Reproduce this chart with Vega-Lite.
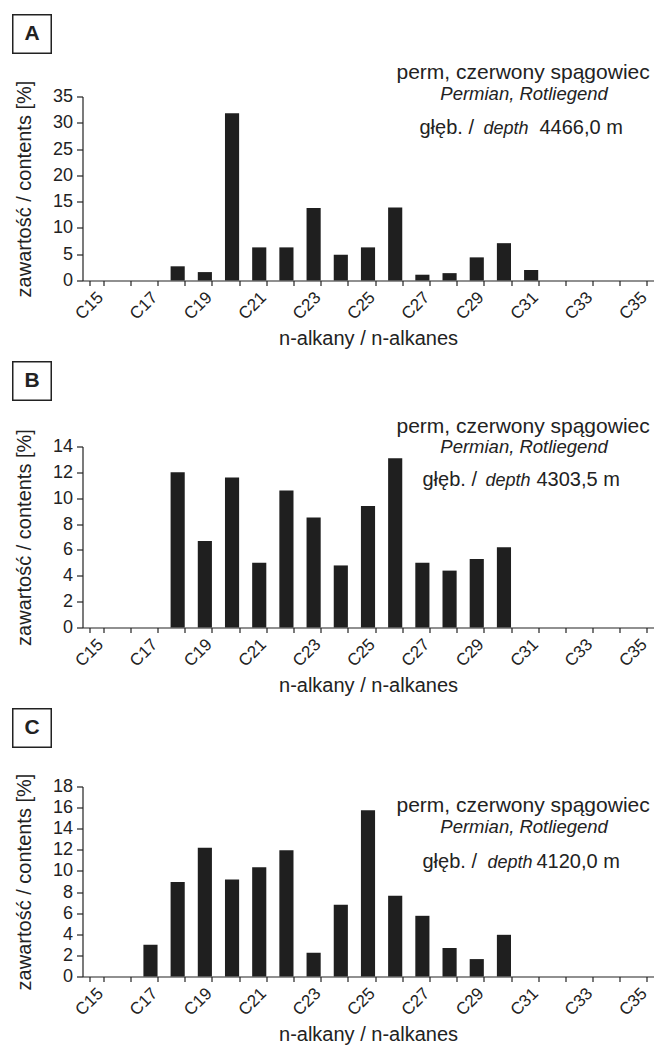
{
  "$schema": "https://vega.github.io/schema/vega-lite/v6.json",
  "padding": {"left": 9.5, "top": 11.5, "right": 4, "bottom": 1},
  "background": "white",
  "config": {
    "font": "Liberation Sans",
    "view": {"stroke": null},
    "axis": {"labelFont": "Liberation Sans", "titleFont": "Liberation Sans", "labelColor": "#222", "titleColor": "#222", "domainColor": "#222", "tickColor": "#222", "grid": false, "titleFontWeight": "normal", "domainWidth": 1.2, "tickWidth": 1.2, "labelOverlap": false},
    "axisX": {"labelAngle": -45, "labelAlign": "right", "labelBaseline": "middle", "labelFontSize": 17, "labelPadding": 9, "labelOffset": 4, "tickSize": 5, "tickBand": "extent", "titleFontSize": 20, "titlePadding": 6},
    "axisY": {"labelFontSize": 18, "labelPadding": 4, "tickSize": 6, "titleFontSize": 20, "titlePadding": 18},
    "concat": {"spacing": 10},
    "text": {"color": "#222", "font": "Liberation Sans"}
  },
  "datasets": {
    "A": [
      {"alkane": "C15", "value": 0}, {"alkane": "C16", "value": 0}, {"alkane": "C17", "value": 0},
      {"alkane": "C18", "value": 2.7}, {"alkane": "C19", "value": 1.6}, {"alkane": "C20", "value": 31.8},
      {"alkane": "C21", "value": 6.3}, {"alkane": "C22", "value": 6.3}, {"alkane": "C23", "value": 13.8},
      {"alkane": "C24", "value": 4.9}, {"alkane": "C25", "value": 6.3}, {"alkane": "C26", "value": 13.9},
      {"alkane": "C27", "value": 1.1}, {"alkane": "C28", "value": 1.4}, {"alkane": "C29", "value": 4.4},
      {"alkane": "C30", "value": 7.1}, {"alkane": "C31", "value": 2.0}, {"alkane": "C32", "value": 0},
      {"alkane": "C33", "value": 0}, {"alkane": "C34", "value": 0}, {"alkane": "C35", "value": 0}
    ],
    "B": [
      {"alkane": "C15", "value": 0}, {"alkane": "C16", "value": 0}, {"alkane": "C17", "value": 0},
      {"alkane": "C18", "value": 12.0}, {"alkane": "C19", "value": 6.7}, {"alkane": "C20", "value": 11.6},
      {"alkane": "C21", "value": 5.0}, {"alkane": "C22", "value": 10.6}, {"alkane": "C23", "value": 8.5},
      {"alkane": "C24", "value": 4.8}, {"alkane": "C25", "value": 9.4}, {"alkane": "C26", "value": 13.1},
      {"alkane": "C27", "value": 5.0}, {"alkane": "C28", "value": 4.4}, {"alkane": "C29", "value": 5.3},
      {"alkane": "C30", "value": 6.2}, {"alkane": "C31", "value": 0}, {"alkane": "C32", "value": 0},
      {"alkane": "C33", "value": 0}, {"alkane": "C34", "value": 0}, {"alkane": "C35", "value": 0}
    ],
    "C": [
      {"alkane": "C15", "value": 0}, {"alkane": "C16", "value": 0}, {"alkane": "C17", "value": 3.0},
      {"alkane": "C18", "value": 8.95}, {"alkane": "C19", "value": 12.2}, {"alkane": "C20", "value": 9.2},
      {"alkane": "C21", "value": 10.35}, {"alkane": "C22", "value": 11.95}, {"alkane": "C23", "value": 2.25},
      {"alkane": "C24", "value": 6.8}, {"alkane": "C25", "value": 15.75}, {"alkane": "C26", "value": 7.65},
      {"alkane": "C27", "value": 5.75}, {"alkane": "C28", "value": 2.7}, {"alkane": "C29", "value": 1.65},
      {"alkane": "C30", "value": 3.95}, {"alkane": "C31", "value": 0}, {"alkane": "C32", "value": 0},
      {"alkane": "C33", "value": 0}, {"alkane": "C34", "value": 0}, {"alkane": "C35", "value": 0}
    ]
  },
  "vconcat": [
    {
      "width": 571, "height": 184,
      "layer": [
        {
          "data": {"name": "A"},
          "mark": {"type": "bar", "color": "#1f1f1f"},
          "encoding": {
            "x": {"field": "alkane", "type": "ordinal", "sort": null,
              "scale": {"domain": ["C15","C16","C17","C18","C19","C20","C21","C22","C23","C24","C25","C26","C27","C28","C29","C30","C31","C32","C33","C34","C35"], "paddingInner": 0.48, "paddingOuter": 0.24},
              "axis": {"title": "n-alkany / n-alkanes", "labelOverlap": false, "labelExpr": "toNumber(slice(datum.label, 1)) % 2 == 1 ? datum.label : ''"}},
            "y": {"field": "value", "type": "quantitative", "scale": {"domain": [0, 35]},
              "axis": {"title": "zawartość / contents  [%]", "labelOverlap": false, "labelFontSize": 18, "values": [0, 5, 10, 15, 20, 25, 30, 35]}}
          }
        },
        {
          "data": {"values": [{"t": "A"}]},
          "mark": {"type": "point", "shape": "square", "size": 1482, "filled": false, "stroke": "#222", "strokeWidth": 1.5, "opacity": 1, "xOffset": -336, "yOffset": -154.5},
          "encoding": {}
        },
        {
          "data": {"values": [{"t": "A"}]},
          "mark": {"type": "text", "fontSize": 21, "fontWeight": "bold", "dx": -336, "dy": -154.5, "align": "center", "baseline": "middle"},
          "encoding": {"text": {"field": "t"}}
        },
        {
          "data": {"values": [{"t": "perm, czerwony spągowiec"}]},
          "mark": {"type": "text", "fontSize": 21, "dx": 155.1, "dy": -109.3, "align": "center", "baseline": "alphabetic"},
          "encoding": {"text": {"field": "t"}}
        },
        {
          "data": {"values": [{"t": "Permian, Rotliegend"}]},
          "mark": {"type": "text", "fontSize": 18.5, "fontStyle": "italic", "dx": 156.1, "dy": -88.3, "align": "center", "baseline": "alphabetic"},
          "encoding": {"text": {"field": "t"}}
        },
        {
          "data": {"values": [{"t": "głęb. /"}]},
          "mark": {"type": "text", "fontSize": 20, "dx": 51.5, "dy": -54.3, "align": "left", "baseline": "alphabetic"},
          "encoding": {"text": {"field": "t"}}
        },
        {
          "data": {"values": [{"t": "depth"}]},
          "mark": {"type": "text", "fontSize": 18, "fontStyle": "italic", "dx": 115.5, "dy": -54.3, "align": "left", "baseline": "alphabetic"},
          "encoding": {"text": {"field": "t"}}
        },
        {
          "data": {"values": [{"t": "4466,0 m"}]},
          "mark": {"type": "text", "fontSize": 20, "dx": 171.5, "dy": -54.3, "align": "left", "baseline": "alphabetic"},
          "encoding": {"text": {"field": "t"}}
        }
      ]
    },
    {
      "width": 571, "height": 181,
      "layer": [
        {
          "data": {"name": "B"},
          "mark": {"type": "bar", "color": "#1f1f1f"},
          "encoding": {
            "x": {"field": "alkane", "type": "ordinal", "sort": null,
              "scale": {"domain": ["C15","C16","C17","C18","C19","C20","C21","C22","C23","C24","C25","C26","C27","C28","C29","C30","C31","C32","C33","C34","C35"], "paddingInner": 0.48, "paddingOuter": 0.24},
              "axis": {"title": "n-alkany / n-alkanes", "labelOverlap": false, "labelExpr": "toNumber(slice(datum.label, 1)) % 2 == 1 ? datum.label : ''"}},
            "y": {"field": "value", "type": "quantitative", "scale": {"domain": [0, 14]},
              "axis": {"title": "zawartość / contents  [%]", "labelOverlap": false, "labelFontSize": 18, "values": [0, 2, 4, 6, 8, 10, 12, 14]}}
          }
        },
        {
          "data": {"values": [{"t": "B"}]},
          "mark": {"type": "point", "shape": "square", "size": 1482, "filled": false, "stroke": "#222", "strokeWidth": 1.5, "opacity": 1, "xOffset": -336, "yOffset": -156},
          "encoding": {}
        },
        {
          "data": {"values": [{"t": "B"}]},
          "mark": {"type": "text", "fontSize": 21, "fontWeight": "bold", "dx": -336, "dy": -156, "align": "center", "baseline": "middle"},
          "encoding": {"text": {"field": "t"}}
        },
        {
          "data": {"values": [{"t": "perm, czerwony spągowiec"}]},
          "mark": {"type": "text", "fontSize": 21, "dx": 155.1, "dy": -103.8, "align": "center", "baseline": "alphabetic"},
          "encoding": {"text": {"field": "t"}}
        },
        {
          "data": {"values": [{"t": "Permian, Rotliegend"}]},
          "mark": {"type": "text", "fontSize": 18.5, "fontStyle": "italic", "dx": 156.1, "dy": -83.8, "align": "center", "baseline": "alphabetic"},
          "encoding": {"text": {"field": "t"}}
        },
        {
          "data": {"values": [{"t": "głęb. /"}]},
          "mark": {"type": "text", "fontSize": 20, "dx": 54.5, "dy": -51.5, "align": "left", "baseline": "alphabetic"},
          "encoding": {"text": {"field": "t"}}
        },
        {
          "data": {"values": [{"t": "depth"}]},
          "mark": {"type": "text", "fontSize": 18, "fontStyle": "italic", "dx": 117.5, "dy": -51.5, "align": "left", "baseline": "alphabetic"},
          "encoding": {"text": {"field": "t"}}
        },
        {
          "data": {"values": [{"t": "4303,5 m"}]},
          "mark": {"type": "text", "fontSize": 20, "dx": 168.5, "dy": -51.5, "align": "left", "baseline": "alphabetic"},
          "encoding": {"text": {"field": "t"}}
        }
      ]
    },
    {
      "width": 571, "height": 190,
      "layer": [
        {
          "data": {"name": "C"},
          "mark": {"type": "bar", "color": "#1f1f1f"},
          "encoding": {
            "x": {"field": "alkane", "type": "ordinal", "sort": null,
              "scale": {"domain": ["C15","C16","C17","C18","C19","C20","C21","C22","C23","C24","C25","C26","C27","C28","C29","C30","C31","C32","C33","C34","C35"], "paddingInner": 0.48, "paddingOuter": 0.24},
              "axis": {"title": "n-alkany / n-alkanes", "labelOverlap": false, "labelExpr": "toNumber(slice(datum.label, 1)) % 2 == 1 ? datum.label : ''"}},
            "y": {"field": "value", "type": "quantitative", "scale": {"domain": [0, 18]},
              "axis": {"title": "zawartość / contents  [%]", "labelOverlap": false, "labelFontSize": 18, "values": [0, 2, 4, 6, 8, 10, 12, 14, 16, 18]}}
          }
        },
        {
          "data": {"values": [{"t": "C"}]},
          "mark": {"type": "point", "shape": "square", "size": 1482, "filled": false, "stroke": "#222", "strokeWidth": 1.5, "opacity": 1, "xOffset": -336, "yOffset": -153.5},
          "encoding": {}
        },
        {
          "data": {"values": [{"t": "C"}]},
          "mark": {"type": "text", "fontSize": 21, "fontWeight": "bold", "dx": -336, "dy": -153.5, "align": "center", "baseline": "middle"},
          "encoding": {"text": {"field": "t"}}
        },
        {
          "data": {"values": [{"t": "perm, czerwony spągowiec"}]},
          "mark": {"type": "text", "fontSize": 21, "dx": 155.1, "dy": -69.3, "align": "center", "baseline": "alphabetic"},
          "encoding": {"text": {"field": "t"}}
        },
        {
          "data": {"values": [{"t": "Permian, Rotliegend"}]},
          "mark": {"type": "text", "fontSize": 18.5, "fontStyle": "italic", "dx": 156.1, "dy": -49, "align": "center", "baseline": "alphabetic"},
          "encoding": {"text": {"field": "t"}}
        },
        {
          "data": {"values": [{"t": "głęb. /"}]},
          "mark": {"type": "text", "fontSize": 20, "dx": 54.5, "dy": -13.3, "align": "left", "baseline": "alphabetic"},
          "encoding": {"text": {"field": "t"}}
        },
        {
          "data": {"values": [{"t": "depth"}]},
          "mark": {"type": "text", "fontSize": 18, "fontStyle": "italic", "dx": 119.5, "dy": -13.3, "align": "left", "baseline": "alphabetic"},
          "encoding": {"text": {"field": "t"}}
        },
        {
          "data": {"values": [{"t": "4120,0 m"}]},
          "mark": {"type": "text", "fontSize": 20, "dx": 168.5, "dy": -13.3, "align": "left", "baseline": "alphabetic"},
          "encoding": {"text": {"field": "t"}}
        }
      ]
    }
  ]
}
